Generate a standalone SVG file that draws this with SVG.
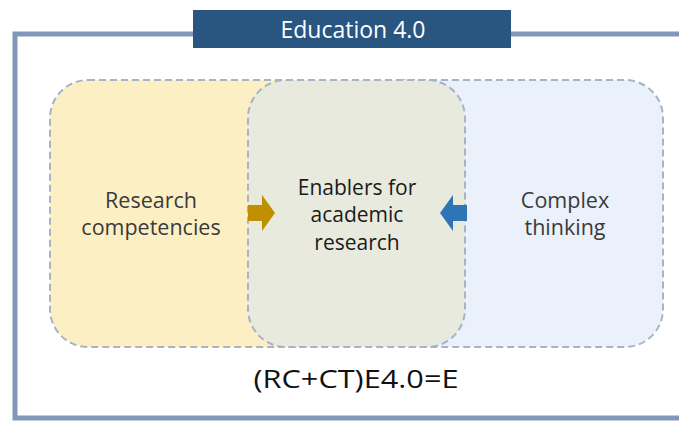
<svg xmlns="http://www.w3.org/2000/svg" width="679" height="421" viewBox="0 0 679 421">
<style>
.zone{stroke:#A7B3C6;stroke-width:2;stroke-dasharray:7 4}
.side{font-family:"Open Sans","Liberation Sans",sans-serif;font-size:21.5px;fill:#3a3a3a;text-anchor:middle}
.mid{font-family:"Open Sans","Liberation Sans",sans-serif;font-size:21px;fill:#1a1a1a;text-anchor:middle}
</style>
<rect width="679" height="421" fill="#ffffff"/>
<g id="frame">
<path d="M679,34 H15 V418 H679" fill="none" stroke="#8197BA" stroke-width="5"/>
</g>
<g id="title">
<rect x="193" y="10" width="318" height="38" fill="#285680"/>
<text x="353" y="38" font-family="'Open Sans','Liberation Sans',sans-serif" font-size="23" fill="#ffffff" text-anchor="middle">Education 4.0</text>
</g>
<g id="research-competencies">
<rect class="zone" x="50" y="80" width="300" height="267" rx="38" fill="#FDEFC4"/>
<text class="side" x="151" y="208">Research</text>
<text class="side" x="151" y="235">competencies</text>
</g>
<g id="complex-thinking">
<rect class="zone" x="370" y="80" width="293" height="267" rx="38" fill="#EAF1FA"/>
<text class="side" x="565" y="208">Complex</text>
<text class="side" x="565" y="235">thinking</text>
</g>
<g id="enablers">
<rect class="zone" x="248" y="80" width="217" height="267" rx="38" fill="#E8EADE"/>
<text class="mid" x="357" y="195">Enablers for</text>
<text class="mid" x="357" y="222">academic</text>
<text class="mid" x="357" y="250">research</text>
</g>
<g id="connectors">
<polygon points="248,205 262,205 262,195 275,213 262,231 262,221 248,221" fill="#BF8F00"/>
<polygon points="467,205 453,205 453,195 440,213 453,231 453,221 467,221" fill="#2E75B6"/>
</g>
<g id="formula">
<text x="356" y="388" font-family="'Open Sans','Liberation Sans',sans-serif" font-size="25" fill="#111111" text-anchor="middle" textLength="205" lengthAdjust="spacingAndGlyphs">(RC+CT)E4.0=E</text>
</g>
</svg>
